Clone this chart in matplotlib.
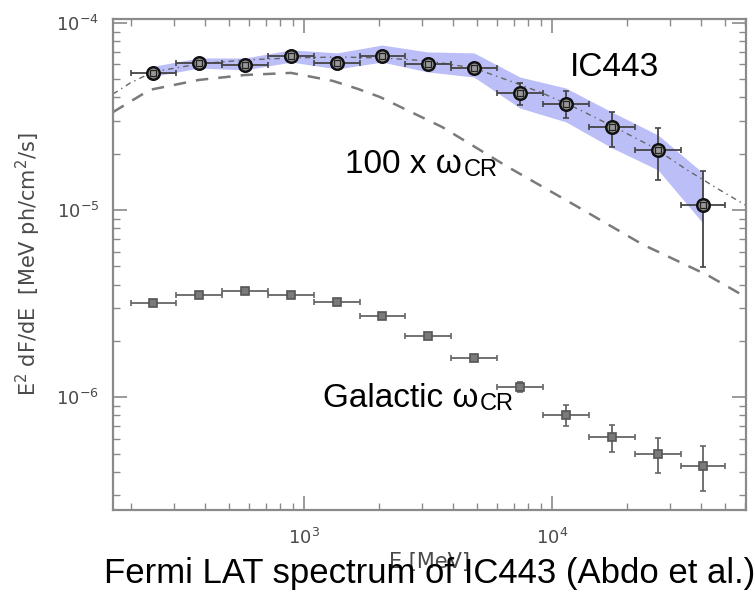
import matplotlib
matplotlib.use("Agg")
import matplotlib.pyplot as plt

# IC443 spectrum (Fermi LAT)
energy = [246, 377, 578, 887, 1360, 2065, 3162, 4845, 7430, 11380, 17450, 26740, 40600]
bin_edges = [200, 305, 466, 716, 1098, 1676, 2555, 3914, 6000, 9195, 14092, 21600, 33000, 50000]
ic_flux = [5.41e-5, 6.11e-5, 5.96e-5, 6.67e-5, 6.11e-5, 6.67e-5, 6.04e-5, 5.74e-5,
           4.23e-5, 3.69e-5, 2.78e-5, 2.09e-5, 1.06e-5]
ic_hi = [5.6e-5, 6.3e-5, 6.15e-5, 6.9e-5, 6.3e-5, 6.9e-5, 6.3e-5, 6.05e-5,
         4.77e-5, 4.33e-5, 3.34e-5, 2.75e-5, 1.62e-5]
ic_lo = [5.22e-5, 5.92e-5, 5.77e-5, 6.45e-5, 5.92e-5, 6.45e-5, 5.8e-5, 5.45e-5,
         3.64e-5, 3.10e-5, 2.17e-5, 1.45e-5, 4.96e-6]

# galactic cosmic-ray emissivity
gal_flux = [3.18e-6, 3.51e-6, 3.69e-6, 3.51e-6, 3.22e-6, 2.71e-6, 2.12e-6, 1.62e-6,
            1.13e-6, 8.01e-7, 6.11e-7, 4.95e-7, 4.27e-7]
gal_hi = [3.25e-6, 3.58e-6, 3.76e-6, 3.58e-6, 3.29e-6, 2.78e-6, 2.18e-6, 1.68e-6,
          1.20e-6, 9.06e-7, 7.08e-7, 6.04e-7, 5.47e-7]
gal_lo = [3.11e-6, 3.44e-6, 3.62e-6, 3.44e-6, 3.15e-6, 2.64e-6, 2.06e-6, 1.56e-6,
          1.07e-6, 7.0e-7, 5.08e-7, 3.93e-7, 3.14e-7]

# systematic band
band_e = [239, 377, 578, 887, 1360, 2065, 3162, 4845, 7430, 11380, 17450, 26740, 40600]
band_hi = [5.82e-5, 6.50e-5, 6.50e-5, 7.18e-5, 6.92e-5, 7.62e-5, 7.00e-5, 6.92e-5,
           5.14e-5, 4.49e-5, 3.34e-5, 2.52e-5, 1.58e-5]
band_lo = [5.14e-5, 5.74e-5, 5.61e-5, 6.18e-5, 5.68e-5, 6.18e-5, 5.47e-5, 5.14e-5,
           3.51e-5, 2.96e-5, 2.15e-5, 1.64e-5, 8.52e-6]

# 100 x omega_CR curve
cr_e = [170, 239, 377, 578, 887, 1309, 1652, 2025, 3605, 6640, 12400, 23100, 42400, 60500]
cr_f = [3.34e-5, 4.39e-5, 4.96e-5, 5.27e-5, 5.41e-5, 4.90e-5, 4.44e-5, 4.02e-5,
        2.78e-5, 1.70e-5, 1.06e-5, 6.57e-6, 4.49e-6, 3.43e-6]

# fitted model
fit_e = [170, 199, 246, 377, 578, 887, 1360, 2065, 3162, 4845, 6590, 8960, 12970,
         18790, 25530, 35000, 47500, 60500]
fit_f = [4.17e-5, 4.77e-5, 5.47e-5, 6.04e-5, 6.34e-5, 6.50e-5, 6.58e-5, 6.50e-5,
         6.27e-5, 5.74e-5, 4.96e-5, 4.27e-5, 3.43e-5, 2.68e-5, 2.17e-5, 1.64e-5,
         1.28e-5, 1.06e-5]

grey = "#4a4a4a"
axis_grey = "#8a8a8a"

fig = plt.figure(figsize=(7.55, 5.93), dpi=100)
ax = fig.add_axes([0.1497, 0.140, 0.8383, 0.828])

ax.fill_between(band_e, band_lo, band_hi, color="#bcbff7", lw=0, zorder=1)
ax.plot(cr_e, cr_f, ls=(0, (5, 4)), color="#7a7a7a", lw=1.8, zorder=2)
ax.plot(fit_e, fit_f, ls=(0, (4, 3, 1, 3)), color="#666666", lw=1.0, zorder=2)

xerr_lo = [e - lo for e, lo in zip(energy, bin_edges[:-1])]
xerr_hi = [hi - e for e, hi in zip(energy, bin_edges[1:])]

ic_yerr = [[f - lo for f, lo in zip(ic_flux, ic_lo)], [hi - f for f, hi in zip(ic_flux, ic_hi)]]
ax.errorbar(energy, ic_flux, xerr=[xerr_lo, xerr_hi], yerr=ic_yerr, fmt="none",
            ecolor="#444444", elinewidth=1.3, capsize=2, capthick=1.2, zorder=3)
ax.plot(energy, ic_flux, "o", ms=9, mfc="#9a9a9a", mec="#111111", mew=1.8, zorder=4)
ax.plot(energy, ic_flux, "s", ms=4, mfc="none", mec="#222222", mew=0.9, zorder=5)

gal_yerr = [[f - lo for f, lo in zip(gal_flux, gal_lo)], [hi - f for f, hi in zip(gal_flux, gal_hi)]]
ax.errorbar(energy, gal_flux, xerr=[xerr_lo, xerr_hi], yerr=gal_yerr, fmt="none",
            ecolor="#666666", elinewidth=1.3, capsize=2, capthick=1.2, zorder=3)
ax.plot(energy, gal_flux, "s", ms=5.5, mfc="#7a7a7a", mec="#555555", mew=1.2, zorder=4)

ax.set_xscale("log")
ax.set_yscale("log")
ax.set_xlim(170, 60500)
ax.set_ylim(2.5e-7, 1.05e-4)

for s in ax.spines.values():
    s.set_color(axis_grey)
    s.set_linewidth(1.6)
ax.tick_params(which="both", direction="in", top=True, right=True, color=axis_grey,
               labelcolor=grey, labelsize=13, pad=10)
ax.tick_params(axis="x", which="both", pad=13)
ax.tick_params(which="major", length=10, width=1.2)
ax.tick_params(which="minor", length=5, width=1.0)

ax.set_ylabel("E$^2$ dF/dE  [MeV ph/cm$^2$/s]", fontsize=15, color=grey)
ax.yaxis.set_label_coords(-0.111, 0.5)
ax.set_xlabel("E [MeV]", fontsize=15, color=grey)
ax.xaxis.set_label_coords(0.5, -0.085)

big = {"family": "Liberation Sans", "color": "black"}
fig.text(0.755, 0.872, "IC443", fontsize=24, **big)
t1 = fig.text(0.457, 0.708, "100 x ω", fontsize=24, **big)
ax.annotate("CR", xy=(1, 0), xycoords=t1, xytext=(1, 3), textcoords="offset points",
            ha="left", va="baseline", fontsize=17, **big)
t2 = fig.text(0.428, 0.314, "Galactic ω", fontsize=24, **big)
ax.annotate("CR", xy=(1, 0), xycoords=t2, xytext=(1, 3), textcoords="offset points",
            ha="left", va="baseline", fontsize=17, **big)
fig.text(0.569, 0.017, "Fermi LAT spectrum of IC443 (Abdo et al.)", fontsize=25,
         ha="center", va="baseline", **big)

fig.savefig("out.png", dpi=100)
